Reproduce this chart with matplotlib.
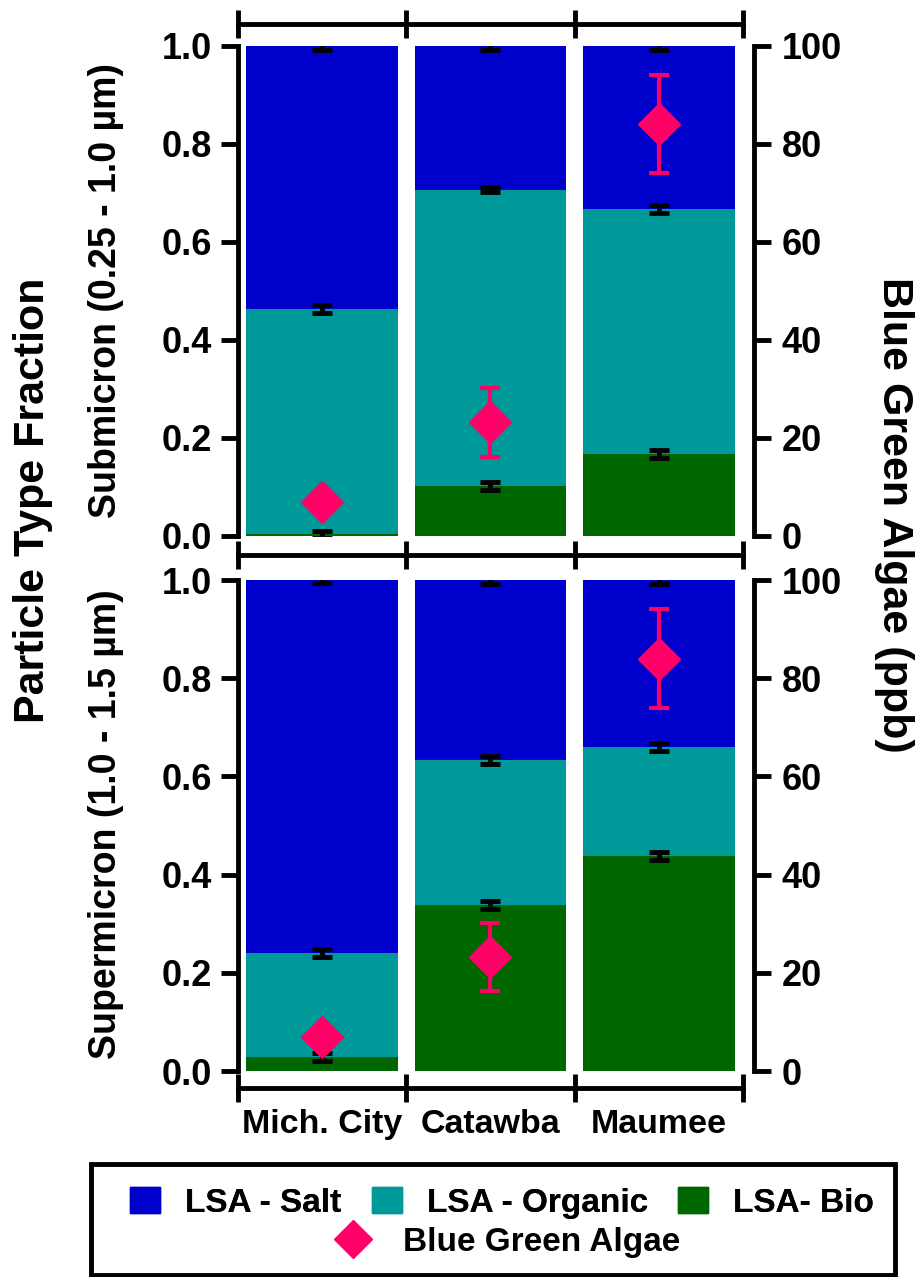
import numpy as np
import matplotlib.pyplot as plt
from matplotlib.patches import Patch, Rectangle
from matplotlib.lines import Line2D

plt.rcParams['font.family'] = ['Liberation Sans', 'DejaVu Sans']
plt.rcParams['font.weight'] = 'bold'

sites = ['Mich. City', 'Catawba', 'Maumee']

# submicron (0.25 - 1.0 um) particle type fractions
sub_bio = [0.003, 0.102, 0.167]
sub_org = [0.460, 0.605, 0.501]
sub_salt = [0.537, 0.293, 0.332]

# supermicron (1.0 - 1.5 um) particle type fractions
sup_bio = [0.029, 0.338, 0.438]
sup_org = [0.212, 0.296, 0.222]
sup_salt = [0.759, 0.366, 0.340]

# uncertainty on each cumulative fraction (bio, organic, salt tops)
sub_err = [[0.008, 0.008, 0.008], [0.008, 0.006, 0.008], [0.008, 0.008, 0.008]]
sup_err = [[0.008, 0.008, 0.008], [0.008, 0.008, 0.008], [0.006, 0.008, 0.008]]

# blue green algae (ppb)
algae = [7.0, 23.2, 84.0]
algae_err = [1.0, 7.0, 10.0]

c_salt = '#0000CC'
c_org = '#009999'
c_bio = '#006600'
c_algae = '#FF0066'

LW = 3.5
FS = 26

fig = plt.figure(figsize=(9.17, 12.77), dpi=100)
ax_top = fig.add_axes([0.2595, 0.5803, 0.5627, 0.3837])
ax_bot = fig.add_axes([0.2595, 0.1613, 0.5627, 0.3845])


def draw_panel(ax, bio, org, salt, errs, top_off, bot_off, show_top, show_labels):
    x = np.arange(len(sites))
    org_top = np.add(bio, org)
    salt_top = org_top + np.array(salt)
    ax.bar(x, bio, 0.9, color=c_bio, zorder=2)
    ax.bar(x, org, 0.9, bottom=bio, color=c_org, zorder=2)
    ax.bar(x, salt, 0.9, bottom=org_top, color=c_salt, zorder=2)
    for tops, e in zip([bio, org_top, salt_top], errs):
        ax.errorbar(x, tops, yerr=e, fmt='none', ecolor='black',
                    elinewidth=3.5, capsize=7, capthick=3.5, zorder=3)

    ax.set_xlim(-0.5, 2.565)
    ax.set_ylim(0, 1)
    ax.set_yticks([0, 0.2, 0.4, 0.6, 0.8, 1.0])
    ax.set_yticklabels(['0.0', '0.2', '0.4', '0.6', '0.8', '1.0'])
    ax.tick_params(axis='y', direction='out', length=12, width=LW,
                   labelsize=FS, pad=7)

    # category dividers on the x axes
    ax.set_xticks([-0.5, 0.5, 1.5, 2.5])
    ax.set_xticklabels([])
    ax.tick_params(axis='x', which='major', direction='inout', length=20,
                   width=LW, top=show_top, bottom=True)
    ax.set_xticks(x, minor=True)
    if show_labels:
        ax.set_xticklabels(sites, minor=True)
    ax.tick_params(axis='x', which='minor', length=0, labelsize=24.5, pad=15)

    for s in ax.spines.values():
        s.set_linewidth(LW)
    ax.spines['right'].set_visible(False)
    ax.spines['bottom'].set_position(('outward', bot_off))
    ax.spines['bottom'].set_bounds(-0.5, 2.5)
    if show_top:
        ax.spines['top'].set_position(('outward', top_off))
        ax.spines['top'].set_bounds(-0.5, 2.5)
    else:
        ax.spines['top'].set_visible(False)

    ax2 = ax.twinx()
    ax2.errorbar(x, algae, yerr=algae_err, fmt='D', color=c_algae, ms=21,
                 mec=c_algae, ecolor=c_algae, elinewidth=3, capsize=7,
                 capthick=3, zorder=4)
    ax2.set_ylim(0, 100)
    ax2.set_yticks([0, 20, 40, 60, 80, 100])
    ax2.tick_params(axis='y', direction='out', length=12, width=LW,
                    labelsize=FS, pad=8)
    for side in ['left', 'top', 'bottom']:
        ax2.spines[side].set_visible(False)
    ax2.spines['right'].set_linewidth(LW)


draw_panel(ax_top, sub_bio, sub_org, sub_salt, sub_err, 16, 14, True, False)
draw_panel(ax_bot, sup_bio, sup_org, sup_salt, sup_err, 0, 12, False, True)

H = 1277
fig.text(33 / 917, 1 - 500 / H, 'Particle Type Fraction', rotation=90,
         ha='center', va='center', fontsize=31)
fig.text(106 / 917, 1 - 290 / H, 'Submicron (0.25 - 1.0 µm)', rotation=90,
         ha='center', va='center', fontsize=27)
fig.text(106 / 917, 1 - 824 / H, 'Supermicron (1.0 - 1.5 µm)', rotation=90,
         ha='center', va='center', fontsize=27)
fig.text(894 / 917, 1 - 515 / H, 'Blue Green Algae (ppb)', rotation=270,
         ha='center', va='center', fontsize=31)

# legend: three particle types on one row, algae marker centred below
patches = [Patch(color=c_salt, label='LSA - Salt'),
           Patch(color=c_org, label='LSA - Organic'),
           Patch(color=c_bio, label='LSA- Bio')]
leg1 = fig.legend(handles=patches, ncol=3, loc='center',
                  bbox_to_anchor=(502 / 917, 1 - 1203 / H), frameon=False,
                  fontsize=24, handlelength=0.9, handleheight=0.8,
                  handletextpad=0.75, columnspacing=0.9,
                  borderpad=0, borderaxespad=0)
diamond = Line2D([], [], marker='D', color=c_algae, ls='none', ms=19,
                 label='Blue Green Algae')
leg2 = fig.legend(handles=[diamond], loc='center',
                  bbox_to_anchor=(500 / 917, 1 - 1242 / H), frameon=False,
                  fontsize=24, handletextpad=0.5, borderpad=0,
                  borderaxespad=0)
fig.add_artist(leg1)
fig.patches.append(Rectangle((91 / 917, 2 / H), 804 / 917, 111 / H,
                             transform=fig.transFigure, fill=False,
                             lw=LW, ec='black'))

fig.savefig('out.png', dpi=100)
